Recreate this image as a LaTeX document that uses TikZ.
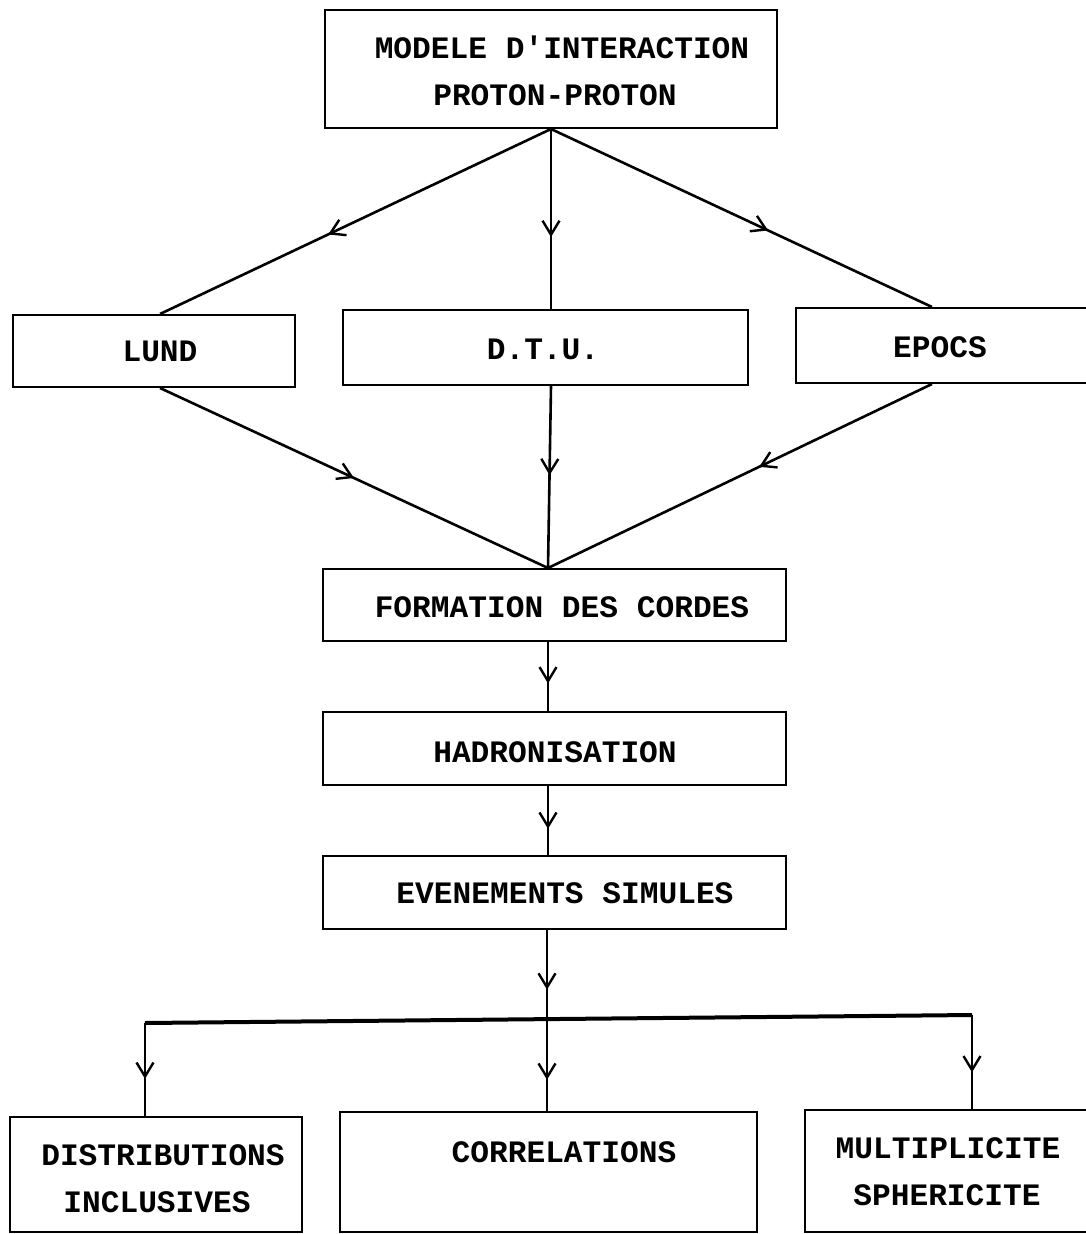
\documentclass[tikz,border=0pt]{standalone}
\usepackage{fontspec}
\newfontfamily\prn{Liberation Mono}
\usetikzlibrary{arrows.meta,decorations.markings}
\tikzset{
  box/.style={draw, rectangle, line width=2pt, inner sep=0pt},
  lbl/.style={inner sep=0pt, font=\prn\bfseries\fontsize{31.2}{36}\selectfont},
  conn/.style={line width=2.6pt},
  flow/.style={conn, postaction={decorate},
    decoration={markings, mark=at position #1 with
      {\arrow{Straight Barb[length=14pt,width=17pt,line width=2.4pt]}}}},
}
\begin{document}
\begin{tikzpicture}[x=1pt,y=-1pt]
\useasboundingbox[fill=white] (0,0) rectangle (1085,1234);

% boxes
\node[box, minimum width=452pt, minimum height=118pt] (top)   at (551,69) {};
\node[box, minimum width=282pt, minimum height=72pt]  (lund)  at (154,351) {};
\node[box, minimum width=405pt, minimum height=75pt]  (dtu)   at (545.5,347.5) {};
\node[box, minimum width=296pt, minimum height=75pt]  (epocs) at (944,345.5) {};
\node[box, minimum width=463pt, minimum height=72pt]  (form)  at (554.5,605) {};
\node[box, minimum width=463pt, minimum height=73pt]  (hadr)  at (554.5,748.5) {};
\node[box, minimum width=463pt, minimum height=73pt]  (even)  at (554.5,892.5) {};
\node[box, minimum width=292pt, minimum height=115pt] (distr) at (156,1174.5) {};
\node[box, minimum width=417pt, minimum height=120pt] (corr)  at (548.5,1172) {};
\node[box, minimum width=287pt, minimum height=122pt] (mult)  at (948.5,1171) {};

% labels
\node[lbl] (t1) at (562,47)   {MODELE D'INTERACTION};
\node[lbl] (t2) at (555,95)   {PROTON-PROTON};
\node[lbl] (t3) at (160,351)  {LUND};
\node[lbl] (t4) at (543,349)  {D.T.U.};
\node[lbl] (t5) at (940,347)  {EPOCS};
\node[lbl] (t6) at (562,607)  {FORMATION DES CORDES};
\node[lbl] (t7) at (555,752)  {HADRONISATION};
\node[lbl] (t8) at (565,893)  {EVENEMENTS SIMULES};
\node[lbl] (t9) at (163,1155) {DISTRIBUTIONS};
\node[lbl] (t10) at (157,1202) {INCLUSIVES};
\node[lbl] (t11) at (564,1152) {CORRELATIONS};
\node[lbl] (t12) at (948,1148) {MULTIPLICITE};
\node[lbl] (t13) at (947,1195) {SPHERICITE};

% model branches
\draw[flow=0.57] (top.south) -- ([xshift=6pt]lund.north);
\draw[flow=0.6]  (top.south) -- (top.south |- dtu.north);
\draw[flow=0.57] (top.south) -- ([xshift=-12pt]epocs.north);

% merge into string formation
\coordinate (meet) at ([xshift=-6.5pt]form.north);
\draw[flow=0.5]  ([xshift=6pt]lund.south) -- (meet);
\draw[flow=0.49] (top.south |- dtu.south) -- (meet);
\draw[flow=0.45] ([xshift=-12pt]epocs.south) -- (meet);

% main chain
\draw[flow=0.6]  (meet |- form.south) -- (meet |- hadr.north);
\draw[flow=0.62] (meet |- hadr.south) -- (meet |- even.north);

% distribution bar
\coordinate (barL) at (145,1023);
\coordinate (barR) at (972,1015);
\coordinate (barM) at (547,1019);
\draw[flow=0.67] (barM |- even.south) -- (barM);
\draw[line width=4pt] (barL) -- (barR);
\draw[flow=0.6]  (barL) -- (barL |- distr.north);
\draw[flow=0.66] (barM) -- (barM |- corr.north);
\draw[flow=0.61] (barR) -- (barR |- mult.north);
\end{tikzpicture}
\end{document}
